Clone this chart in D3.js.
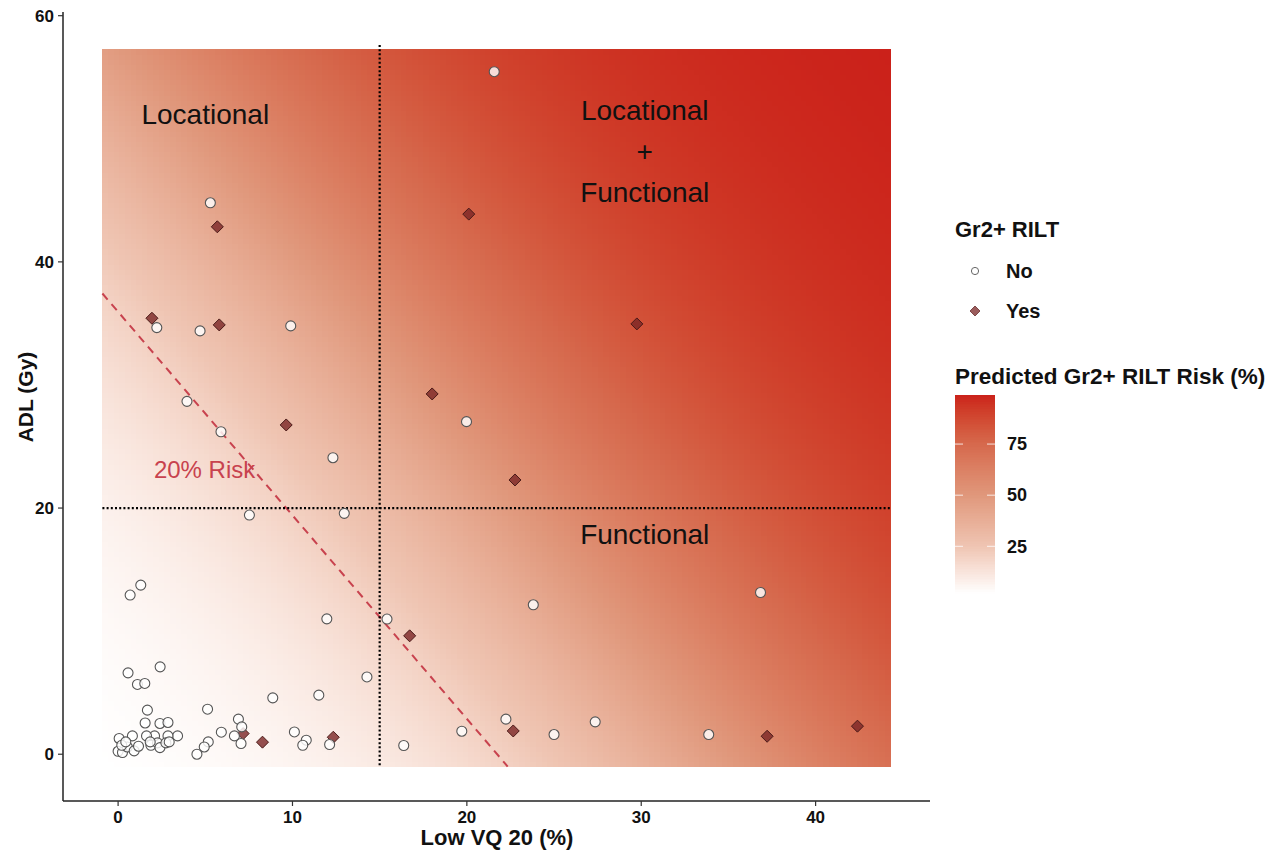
<!DOCTYPE html>
<html>
<head>
<meta charset="utf-8">
<script src="https://cdn.jsdelivr.net/npm/d3@7"></script>
<style>
  html, body { margin: 0; padding: 0; background: #fff; }
  text { font-family: "Liberation Sans", Arial, sans-serif; }
</style>
</head>
<body>
<svg id="chart" width="1281" height="854"></svg>
<script>
// ---------------- data ----------------
// Gr2+ RILT = No
const noX = [21.57, 5.29, 2.22, 4.70, 9.90, 3.95, 5.90, 12.32, 19.98, 7.53, 12.97, 15.42, 11.97, 23.81, 36.84, 1.30, 0.69, 16.38, 19.71, 22.24, 25.0, 27.36, 33.87,
  0.57, 2.41, 1.11, 1.53, 14.27, 8.87, 11.51, 1.68, 5.13, 1.55, 2.40, 2.86, 6.90, 7.09, 5.92, 6.67, 7.05, 10.11, 10.79, 10.59, 12.13, 5.17, 4.94, 4.52,
  3.41, 2.86, 2.09, 1.63, 0.82, 0.06, 0.0, 0.25, 0.53, 0.92, 1.17, 1.88, 2.26, 2.40, 2.74, 2.93, 0.21, 0.44, 1.84];
const noY = [55.45, 44.8, 34.66, 34.39, 34.80, 28.67, 26.2, 24.09, 27.02, 19.43, 19.57, 10.98, 11.0, 12.14, 13.14, 13.74, 12.93, 0.71, 1.87, 2.85, 1.60, 2.63, 1.60,
  6.61, 7.10, 5.67, 5.75, 6.28, 4.58, 4.80, 3.58, 3.66, 2.54, 2.50, 2.58, 2.85, 2.22, 1.79, 1.49, 0.87, 1.81, 1.14, 0.73, 0.79, 1.0, 0.59, 0.0,
  1.49, 1.49, 1.49, 1.49, 1.49, 1.28, 0.24, 0.14, 0.59, 0.27, 0.65, 0.73, 0.92, 0.54, 0.92, 1.0, 0.73, 1.0, 1.0];
// Gr2+ RILT = Yes
const yesX = [1.94, 5.80, 5.69, 9.64, 20.11, 29.75, 18.01, 22.76, 16.72, 22.66, 37.22, 42.40, 8.28, 12.34, 7.17];
const yesY = [35.42, 34.88, 42.85, 26.75, 43.88, 34.96, 29.27, 22.28, 9.62, 1.89, 1.46, 2.28, 0.98, 1.38, 1.68];

// predicted risk model (logistic): logit(p) = b0 + b1*LowVQ20 + b2*ADL
const modelCoef = [-3.66, 0.1046, 0.06326];
const gridXRange = [-0.9, 44.3];
const gridYRange = [-1.0, 57.3];
const riskContour = 0.20;
const cutX = 15, cutY = 20;

const xTicks = [0, 10, 20, 30, 40];
const yTicks = [0, 20, 40, 60];
const cbTicks = [25, 50, 75];
const legendLabels = ["No", "Yes"];
const quadrantLabels = [
  { lines: ["Locational"], x: 5.0, y: 52.0 },
  { lines: ["Locational", "+", "Functional"], x: 30.2, y: 49.0 },
  { lines: ["Functional"], x: 30.2, y: 17.9 }
];
// colour ramp stops (risk %, colour)
const rampRisk = [25, 50, 75];
const rampColors = ["#FFFFFF", "#EFC5B3", "#E0987C", "#D6694D", "#CB211A"];

// ---------------- setup ----------------
const svg = d3.select("#chart");
const x = d3.scaleLinear().domain([-3.16, 46.56]).range([63, 930]);
const y = d3.scaleLinear().domain([-3.8, 60.3]).range([801, 12]);

const risk = (vx, vy) => 1 / (1 + Math.exp(-(modelCoef[0] + modelCoef[1] * vx + modelCoef[2] * vy)));

// grid
const nx = 140, ny = 140;
const dx = (gridXRange[1] - gridXRange[0]) / nx;
const dy = (gridYRange[1] - gridYRange[0]) / ny;
const cells = [];
for (let i = 0; i < nx; i++) {
  for (let j = 0; j < ny; j++) {
    const cx = gridXRange[0] + (i + 0.5) * dx;
    const cy = gridYRange[0] + (j + 0.5) * dy;
    cells.push({ x0: gridXRange[0] + i * dx, y0: gridYRange[0] + j * dy, p: risk(cx, cy) * 100 });
  }
}
const pExt = [risk(gridXRange[0], gridYRange[0]) * 100, risk(gridXRange[1], gridYRange[1]) * 100];
const color = d3.scaleLinear()
  .domain([pExt[0], ...rampRisk, pExt[1]])
  .range(rampColors)
  .interpolate(d3.interpolateLab)
  .clamp(true);

const gRaster = svg.append("g");
gRaster.selectAll("rect").data(cells).join("rect")
  .attr("x", d => x(d.x0))
  .attr("y", d => y(d.y0 + dy))
  .attr("width", x(dx) - x(0) + 0.6)
  .attr("height", y(0) - y(dy) + 0.6)
  .attr("fill", d => color(d.p))
  .attr("shape-rendering", "crispEdges");

// 20% risk contour
const L = Math.log(riskContour / (1 - riskContour));
const cx0 = gridXRange[0], cy0 = (L - modelCoef[0] - modelCoef[1] * cx0) / modelCoef[2];
const cy1 = gridYRange[0], cx1 = (L - modelCoef[0] - modelCoef[2] * cy1) / modelCoef[1];
svg.append("line")
  .attr("x1", x(cx0)).attr("y1", y(cy0)).attr("x2", x(cx1)).attr("y2", y(cy1))
  .attr("stroke", "#C8424E").attr("stroke-width", 2).attr("stroke-dasharray", "8,6");

// dotted cut lines
svg.append("line")
  .attr("x1", x(cutX)).attr("x2", x(cutX)).attr("y1", y(gridYRange[1]) - 4).attr("y2", y(gridYRange[0]))
  .attr("stroke", "#000").attr("stroke-width", 2.2).attr("stroke-dasharray", "2,2.2");
svg.append("line")
  .attr("x1", x(gridXRange[0])).attr("x2", x(gridXRange[1])).attr("y1", y(cutY)).attr("y2", y(cutY))
  .attr("stroke", "#000").attr("stroke-width", 2.2).attr("stroke-dasharray", "2,2.2");

// text annotations
quadrantLabels.forEach(q => {
  const n = q.lines.length;
  q.lines.forEach((t, k) => {
    svg.append("text")
      .attr("x", x(q.x))
      .attr("y", y(q.y) + (k - (n - 1) / 2) * 41)
      .attr("dy", "0.35em")
      .attr("text-anchor", "middle")
      .attr("font-size", 28)
      .attr("fill", "#111")
      .text(t);
  });
});
svg.append("text")
  .attr("x", x(4.96)).attr("y", y(23.1)).attr("dy", "0.35em")
  .attr("text-anchor", "middle").attr("font-size", 24).attr("fill", "#C8424E")
  .text("20% Risk");

// points
const diamond = h => `M0,${-h}L${h},0L0,${h}L${-h},0Z`;
const yesPts = yesX.map((v, i) => ({ x: v, y: yesY[i] }));
const noPts = noX.map((v, i) => ({ x: v, y: noY[i] }));
svg.append("g").selectAll("path").data(yesPts).join("path")
  .attr("d", diamond(6))
  .attr("transform", d => `translate(${x(d.x)},${y(d.y)})`)
  .attr("fill", "#7A2626").attr("fill-opacity", 0.8)
  .attr("stroke", "#4A1A18").attr("stroke-width", 1);
svg.append("g").selectAll("circle").data(noPts).join("circle")
  .attr("cx", d => x(d.x)).attr("cy", d => y(d.y)).attr("r", 5)
  .attr("fill", "#FFFFFF").attr("fill-opacity", 0.82)
  .attr("stroke", "#555").attr("stroke-width", 1.1);

// axes
const axisG = svg.append("g");
axisG.append("line").attr("x1", 63).attr("x2", 930).attr("y1", 801).attr("y2", 801)
  .attr("stroke", "#222").attr("stroke-width", 1.5);
axisG.append("line").attr("x1", 63).attr("x2", 63).attr("y1", 12).attr("y2", 801)
  .attr("stroke", "#222").attr("stroke-width", 1.5);
xTicks.forEach(t => {
  axisG.append("line").attr("x1", x(t)).attr("x2", x(t)).attr("y1", 801).attr("y2", 806)
    .attr("stroke", "#333").attr("stroke-width", 1.2);
  axisG.append("text").attr("x", x(t)).attr("y", 823).attr("text-anchor", "middle")
    .attr("font-size", 17).attr("font-weight", "bold").attr("fill", "#111").text(t);
});
yTicks.forEach(t => {
  axisG.append("line").attr("x1", 58).attr("x2", 63).attr("y1", y(t)).attr("y2", y(t))
    .attr("stroke", "#333").attr("stroke-width", 1.2);
  axisG.append("text").attr("x", 54).attr("y", y(t)).attr("dy", "0.35em").attr("text-anchor", "end")
    .attr("font-size", 17).attr("font-weight", "bold").attr("fill", "#111").text(t);
});
svg.append("text").attr("x", 497).attr("y", 845).attr("text-anchor", "middle")
  .attr("font-size", 22).attr("font-weight", "bold").attr("fill", "#111").text("Low VQ 20 (%)");
svg.append("text").attr("transform", "translate(33,397) rotate(-90)").attr("text-anchor", "middle")
  .attr("font-size", 21).attr("font-weight", "bold").attr("fill", "#111").text("ADL (Gy)");

// legend: shape
const lg = svg.append("g");
lg.append("text").attr("x", 955).attr("y", 237).attr("font-size", 22).attr("font-weight", "bold")
  .attr("fill", "#111").text("Gr2+ RILT");
lg.append("circle").attr("cx", 975).attr("cy", 271).attr("r", 3.6)
  .attr("fill", "#fff").attr("stroke", "#666").attr("stroke-width", 1);
lg.append("path").attr("d", diamond(5)).attr("transform", "translate(975,311)")
  .attr("fill", "#7A2626").attr("fill-opacity", 0.75).attr("stroke", "#6a3030").attr("stroke-width", 0.8);
legendLabels.forEach((t, i) => {
  lg.append("text").attr("x", 1006).attr("y", 271 + i * 40).attr("dy", "0.35em")
    .attr("font-size", 20).attr("font-weight", "bold").attr("fill", "#111").text(t);
});

// legend: colourbar
lg.append("text").attr("x", 955).attr("y", 384).attr("font-size", 22.5).attr("font-weight", "bold")
  .attr("fill", "#111").text("Predicted Gr2+ RILT Risk (%)");
const cb = d3.scaleLinear().domain(pExt).range([593, 395]);
const nb = 120;
const bins = d3.range(nb).map(i => pExt[0] + (pExt[1] - pExt[0]) * (i + 0.5) / nb);
const bh = (593 - 395) / nb;
lg.append("g").selectAll("rect").data(bins).join("rect")
  .attr("x", 955).attr("width", 40)
  .attr("y", d => cb(d) - bh / 2).attr("height", bh + 0.5)
  .attr("fill", d => color(d)).attr("shape-rendering", "crispEdges");
cbTicks.forEach(t => {
  lg.append("line").attr("x1", 955).attr("x2", 963).attr("y1", cb(t)).attr("y2", cb(t))
    .attr("stroke", "#fff").attr("stroke-width", 1).attr("stroke-opacity", 0.8);
  lg.append("line").attr("x1", 987).attr("x2", 995).attr("y1", cb(t)).attr("y2", cb(t))
    .attr("stroke", "#fff").attr("stroke-width", 1).attr("stroke-opacity", 0.8);
  lg.append("text").attr("x", 1007).attr("y", cb(t)).attr("dy", "0.35em")
    .attr("font-size", 18).attr("font-weight", "bold").attr("fill", "#111").text(t);
});
</script>
</body>
</html>
